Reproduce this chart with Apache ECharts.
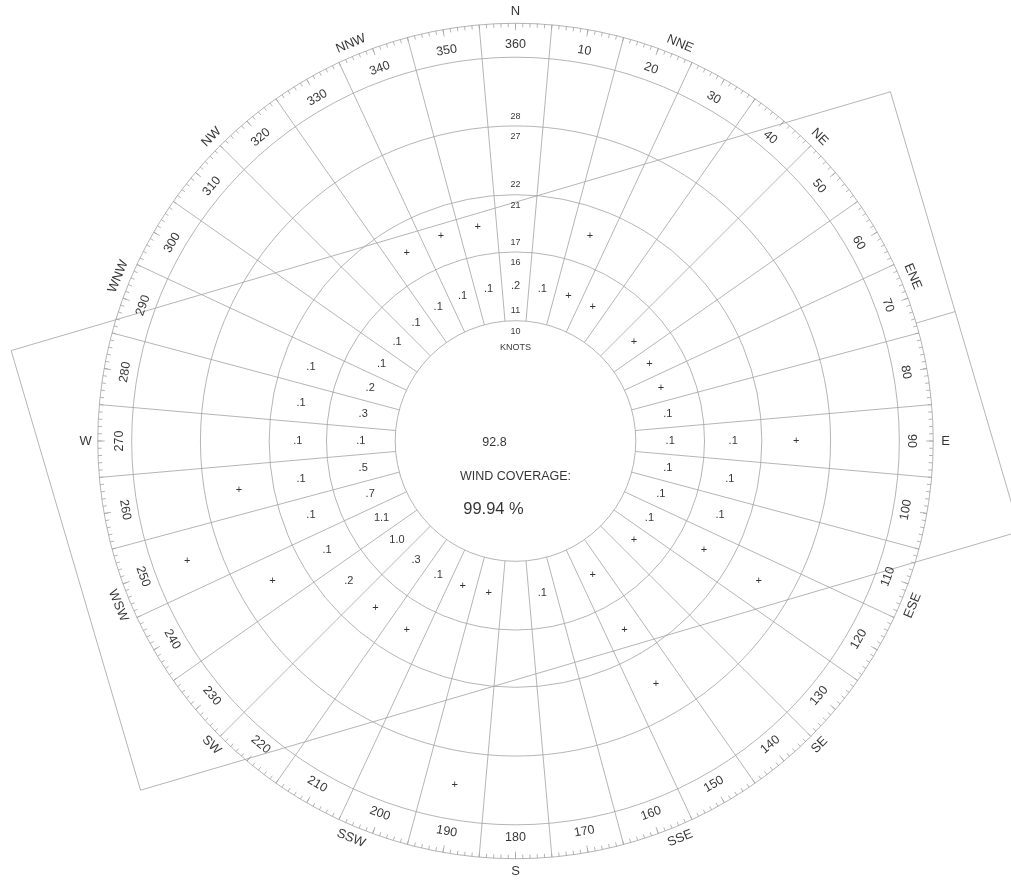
<!DOCTYPE html>
<html>
<head>
<meta charset="utf-8">
<script src="https://cdn.jsdelivr.net/npm/echarts@6/dist/echarts.min.js"></script>
<style>
html,body{margin:0;padding:0;background:#ffffff;}
#chart{width:1011px;height:880px;}
</style>
</head>
<body>
<div id="chart"></div>
<script>
// ---------------- DATA ----------------
const directions = [10,20,30,40,50,60,70,80,90,100,110,120,130,140,150,160,170,180,
                    190,200,210,220,230,240,250,260,270,280,290,300,310,320,330,340,350,360];
// percentage of observations per direction and speed band ('+' = trace, '' = none)
const band11to16 = ['.1','+','+','','+','+','+','.1','.1','.1','.1','.1','+','','+','','.1','',
                    '+','+','.1','.3','1.0','1.1','.7','.5','.1','.3','.2','.1','.1','.1','.1','.1','.1','.2'];
const band17to21 = ['','+','','','','','','','.1','.1','.1','+','','','+','','','',
                    '','','+','+','.2','.1','.1','.1','.1','.1','.1','','','','+','+','+',''];
const band22to27 = ['','','','','','','','','+','','','+','','','+','','','',
                    '','','','','','+','','+','','','','','','','','','',''];
const band28plus = ['','','','','','','','','','','','','','','','','','',
                    '+','','','','','','+','','','','','','','','','','',''];
const calmPercent = '92.8';
const coverageTitle = 'WIND COVERAGE:';
const coverageValue = '99.94 %';
const degreeLabels = ['10','20','30','40','50','60','70','80','90','100','110','120','130','140','150','160','170','180',
                      '190','200','210','220','230','240','250','260','270','280','290','300','310','320','330','340','350','360'];
const compassLabels = ['N','NNE','NE','ENE','E','ESE','SE','SSE','S','SSW','SW','WSW','W','WNW','NW','NNW'];
const speedRings = [10.5, 16.5, 21.5, 27.5];       // knots, band boundaries
const ringLowerLabels = ['10','16','21','27'];
const ringUpperLabels = ['11','17','22','28'];
const unitLabel = 'KNOTS';
const runwayHeading = 73.6;      // degrees true
const crosswindKnots = 20;       // template half width
const templateHalfLength = 40;   // knots

// ---------------- LAYOUT / STYLE ----------------
const CX = 515.5, CY = 441;
const PX_PER_KT = 11.457;
const INNER_KT = speedRings[0];
const OUTER_KT = 36.46;
const BAND_KT = 33.5;
const DEG_LABEL_KT = 34.6;
const COMPASS_KT = 37.53;
const px = k => k * PX_PER_KT;
const LINE = '#a2a2a2';
const TXT = '#000000';
const FONT = '"Liberation Sans", Arial, Helvetica, sans-serif';
const lineStyle = {color: LINE, width: 0.8};

function tangentRotate(b) {
  const a = ((b % 360) + 360) % 360;
  if (a > 90 && a < 270) return 180 - a;
  return -a;
}

// polar systems: 0 = main (inner circle..outer circle), then ring circles, then long ticks
const ringCircles = speedRings.slice(1).concat([BAND_KT]);
const polars = [{center: [CX, CY], radius: [px(INNER_KT), px(OUTER_KT)]}];
ringCircles.forEach(k => polars.push({center: [CX, CY], radius: px(k)}));
polars.push({center: [CX, CY], radius: px(OUTER_KT)});
const tickPolarIndex = polars.length - 1;

const angleAxes = [{
  polarIndex: 0, type: 'value', min: 5, max: 365, interval: 10,
  startAngle: 85, clockwise: true,
  axisLine: {show: true, lineStyle},
  axisTick: {show: true, inside: true, length: 4, lineStyle},
  minorTick: {show: true, splitNumber: 10, length: 4, lineStyle},
  axisLabel: {show: false},
  splitLine: {show: true, lineStyle}
}];
const radiusAxes = [{
  polarIndex: 0, type: 'value', min: INNER_KT, max: OUTER_KT,
  axisLine: {show: false}, axisTick: {show: false}, axisLabel: {show: false}, splitLine: {show: false}
}];
for (let i = 1; i < polars.length; i++) {
  const isTick = i === tickPolarIndex;
  angleAxes.push({
    polarIndex: i, type: 'value', min: 0, max: 360, interval: isTick ? 10 : 90,
    startAngle: 90, clockwise: true,
    axisLine: {show: !isTick, lineStyle},
    axisTick: {show: isTick, inside: true, length: 7, lineStyle},
    minorTick: {show: false},
    axisLabel: {show: false},
    splitLine: {show: false}
  });
  radiusAxes.push({
    polarIndex: i, type: 'value', min: 0, max: 1,
    axisLine: {show: false}, axisTick: {show: false}, axisLabel: {show: false}, splitLine: {show: false}
  });
}

function textSeries(items, fontSize, offset) {
  return {
    type: 'scatter', coordinateSystem: 'polar', polarIndex: 0,
    symbol: 'circle', symbolSize: 1, clip: false, silent: true, z: 5,
    itemStyle: {color: 'rgba(0,0,0,0)'},
    label: {show: true, position: 'inside', formatter: '{b}', color: TXT,
            fontSize: fontSize, fontFamily: FONT, offset: offset || [0, 0]},
    data: items
  };
}

// data cells
const bandValues = [band11to16, band17to21, band22to27, band28plus];
const bandEdges = speedRings.concat([BAND_KT]);
const cellItems = [];
bandValues.forEach((vals, bi) => {
  const mid = (bandEdges[bi] + bandEdges[bi + 1]) / 2;
  vals.forEach((v, i) => {
    if (v !== '') cellItems.push({name: v, value: [mid, directions[i]]});
  });
});

const degreeItems = degreeLabels.map(t => {
  const b = Number(t);
  return {name: t, value: [DEG_LABEL_KT, b], label: {rotate: tangentRotate(b)}};
});
const compassItems = compassLabels.map((t, i) => {
  const b = i * 22.5;
  return {name: t, value: [COMPASS_KT, b], label: {rotate: (i % 4 === 0) ? 0 : tangentRotate(b)}};
});
const ringLabelItems = [];
speedRings.forEach((k, i) => {
  ringLabelItems.push({name: ringLowerLabels[i], value: [k - 0.95, 360]});
  ringLabelItems.push({name: ringUpperLabels[i], value: [k + 0.85, 360]});
});
ringLabelItems.push({name: unitLabel, value: [INNER_KT - 2.3, 360]});

// crosswind template (polar coordinates of its corners and centre line)
const cornerDist = Math.hypot(templateHalfLength, crosswindKnots);
const cornerAng = Math.atan2(crosswindKnots, templateHalfLength) * 180 / Math.PI;
const templateOutline = [
  [cornerDist, runwayHeading - cornerAng],
  [cornerDist, runwayHeading + cornerAng],
  [cornerDist, runwayHeading + 180 - cornerAng],
  [cornerDist, runwayHeading + 180 + cornerAng],
  [cornerDist, runwayHeading - cornerAng]
];
const templateCentreline = [[OUTER_KT, runwayHeading], [templateHalfLength, runwayHeading]];

const templateSeries = {
  type: 'custom', coordinateSystem: 'polar', polarIndex: 0, silent: true, clip: false, z: 2,
  data: [[0, 0]],
  renderItem: function (params, api) {
    return {
      type: 'group',
      children: [
        {type: 'polyline', shape: {points: templateOutline.map(p => api.coord(p))},
         style: {stroke: LINE, lineWidth: 0.8, fill: null}},
        {type: 'polyline', shape: {points: templateCentreline.map(p => api.coord(p))},
         style: {stroke: LINE, lineWidth: 0.8, fill: null}}
      ]
    };
  }
};

const chart = echarts.init(document.getElementById('chart'), null, {renderer: 'canvas'});
chart.setOption({
  animation: false,
  backgroundColor: '#ffffff',
  polar: polars,
  angleAxis: angleAxes,
  radiusAxis: radiusAxes,
  series: [
    templateSeries,
    textSeries(cellItems, 11),
    textSeries(degreeItems, 12.5),
    textSeries(compassItems, 13),
    textSeries(ringLabelItems, 9),
    textSeries([{name: calmPercent, value: [0, 360]}], 12.5, [-21, 2]),
    textSeries([{name: coverageTitle, value: [0, 360]}], 12.5, [0, 36]),
    textSeries([{name: coverageValue, value: [0, 360]}], 16.5, [-22, 68.5])
  ]
});
</script>
</body>
</html>
